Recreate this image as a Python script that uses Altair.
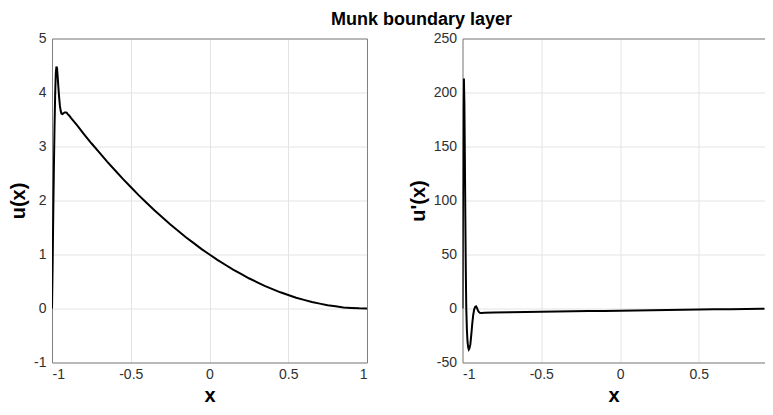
import altair as alt
import pandas as pd

# ---- data ----
x_u = [-1.0, -0.996, -0.992, -0.988, -0.984, -0.980, -0.976, -0.972, -0.968, -0.964,
       -0.960, -0.955, -0.950, -0.945, -0.940, -0.935, -0.930, -0.925, -0.920, -0.915,
       -0.910, -0.905, -0.900, -0.890, -0.880, -0.860, -0.840, -0.800, -0.750, -0.700,
       -0.650, -0.600, -0.550, -0.500, -0.450, -0.400, -0.350, -0.300, -0.250, -0.200,
       -0.150, -0.100, -0.050, 0.000, 0.050, 0.100, 0.150, 0.200, 0.250, 0.300,
       0.350, 0.400, 0.450, 0.500, 0.550, 0.600, 0.650, 0.700, 0.750, 0.800,
       0.850, 0.900, 0.950, 1.000]
u_vals = [0.0, 0.8, 1.75, 2.6, 3.35, 3.95, 4.35, 4.48, 4.45, 4.30,
          4.12, 3.92, 3.76, 3.66, 3.61, 3.60, 3.61, 3.62, 3.63, 3.63,
          3.63, 3.62, 3.60, 3.57, 3.53, 3.46, 3.39, 3.24, 3.06, 2.89,
          2.72, 2.56, 2.40, 2.25, 2.10, 1.96, 1.82, 1.69, 1.56, 1.44,
          1.32, 1.21, 1.10, 1.00, 0.90, 0.81, 0.72, 0.64, 0.56, 0.49,
          0.42, 0.36, 0.30, 0.25, 0.20, 0.16, 0.12, 0.09, 0.06, 0.04,
          0.02, 0.01, 0.003, 0.0]

x_du = [-1.0, -0.997, -0.994, -0.991, -0.988, -0.985, -0.982, -0.979, -0.976, -0.972,
        -0.968, -0.964, -0.960, -0.956, -0.950, -0.944, -0.938, -0.932, -0.926, -0.920,
        -0.914, -0.908, -0.902, -0.896, -0.890, -0.880, -0.860, -0.800, -0.700, -0.600,
        -0.500, -0.400, -0.300, -0.200, -0.100, 0.000, 0.100, 0.200, 0.300, 0.400,
        0.500, 0.600, 0.700, 0.800, 0.900, 1.000]
du_vals = [0.0, 100.0, 185.0, 213.0, 190.0, 140.0, 85.0, 35.0, 0.0, -20.0,
           -31.0, -36.0, -38.0, -37.0, -33.0, -24.0, -14.0, -6.0, -1.0, 1.5,
           2.0, 0.5, -1.8, -3.2, -4.0, -4.2, -3.9, -3.6, -3.4, -3.2,
           -3.0, -2.8, -2.6, -2.4, -2.2, -2.0, -1.8, -1.6, -1.4, -1.2,
           -1.0, -0.8, -0.6, -0.4, -0.2, 0.0]

x_ticks_left = [-1, -0.5, 0, 0.5, 1]
x_ticks_right = [-1, -0.5, 0, 0.5]
u_ticks = [-1, 0, 1, 2, 3, 4, 5]
du_ticks = [-50, 0, 50, 100, 150, 200, 250]

df_u = pd.DataFrame({"x": x_u, "y": u_vals})
df_du = pd.DataFrame({"x": x_du, "y": du_vals})

FONT = "Liberation Sans"


def panel(df, xdom, xticks, ydom, yticks, ytitle, width, right_frame):
    base = alt.Chart(df)
    line = base.mark_line(color="black", strokeWidth=2, clip=True).encode(
        x=alt.X("x:Q",
                scale=alt.Scale(domain=xdom, nice=False, zero=False),
                axis=alt.Axis(values=xticks, title="x", grid=True,
                              labelExpr="'' + datum.value",
                              labelPadding=5, titlePadding=7.5,
                              titleBaseline="line-top", titleLineHeight=12)),
        y=alt.Y("y:Q",
                scale=alt.Scale(domain=ydom, nice=False, zero=False),
                axis=alt.Axis(values=yticks, title=ytitle, grid=True,
                              labelExpr="'' + datum.value",
                              labelPadding=6, titlePadding=5)),
    )
    yframe = (alt.Y("y:Q", axis=alt.Axis(orient="right", labels=False, ticks=False,
                                         grid=False, title=None, domain=True))
              if right_frame else alt.Y("y:Q", axis=None))
    frame = base.mark_line(opacity=0, clip=True).encode(
        x=alt.X("x:Q", axis=alt.Axis(orient="top", labels=False, ticks=False,
                                     grid=False, title=None, domain=True)),
        y=yframe,
    )
    return alt.layer(line, frame).resolve_axis(x="independent", y="independent").properties(
        width=width, height=324)


left = panel(df_u, [-1, 1], x_ticks_left, [-1, 5], u_ticks, "u(x)", 315, True)
right = panel(df_du, [-1, 0.917], x_ticks_right, [-50, 250], du_ticks, "u'(x)", 302, False)

chart = alt.hconcat(left, right, spacing=40.5).properties(
    padding={"left": 0, "right": 0, "top": 2.5, "bottom": 0},
    title=alt.TitleParams("Munk boundary layer", font=FONT, fontSize=18,
                          fontWeight="bold", color="#000000", anchor="middle",
                          offset=2.8, dx=35),
).configure_view(stroke=None).configure_axis(
    labelFont=FONT, labelFontSize=14, labelColor="#303030",
    titleFont=FONT, titleFontSize=20, titleFontWeight="bold", titleColor="#000000",
    domainColor="#808080", domainWidth=1, gridColor="#e3e3e3", gridWidth=1,
    ticks=False,
)

chart.save("out.html", embed_options={"renderer": "svg", "actions": False})
